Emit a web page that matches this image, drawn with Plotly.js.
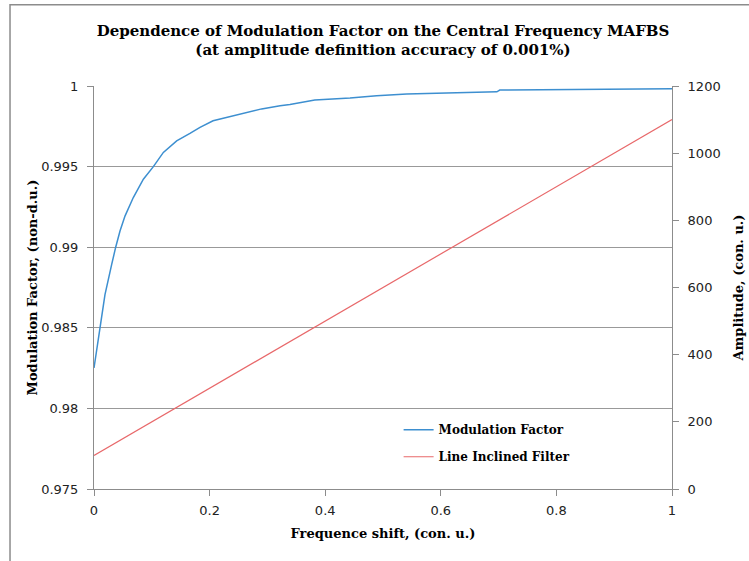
<!DOCTYPE html>
<html>
<head>
<meta charset="utf-8">
<script src="https://cdn.plot.ly/plotly-3.0.1.min.js"></script>
<style>html,body{margin:0;padding:0;background:#fff;}#chart{width:749px;height:561px;}</style>
</head>
<body>
<div id="chart"></div>
<script>
// Frequency shift (con. u.) for the Modulation Factor curve
var freqShift = [0, 0.0046, 0.0104, 0.019, 0.0248, 0.0306, 0.0375, 0.045, 0.0536, 0.068, 0.0854, 0.1027, 0.12, 0.143, 0.166, 0.1834, 0.206, 0.25, 0.29, 0.322, 0.339, 0.382, 0.443, 0.489, 0.541, 0.61, 0.697, 0.702, 0.852, 1.0];
// Modulation factor (non-d.u.)
var modFactor = [0.98251, 0.98354, 0.985, 0.98706, 0.9881, 0.98893, 0.99, 0.991, 0.99193, 0.99308, 0.99422, 0.995, 0.99588, 0.9966, 0.99706, 0.99743, 0.99784, 0.99825, 0.99858, 0.99877, 0.99885, 0.99913, 0.99925, 0.9994, 0.9995, 0.99956, 0.99964, 0.99975, 0.99981, 0.99983];
// Line inclined filter (amplitude, con. u.)
var filterX = [0, 1];
var filterAmp = [100, 1100];
// Tick labels
var leftTickVals = [0.975, 0.98, 0.985, 0.99, 0.995, 1];
var leftTickText = ["0.975", "0.98", "0.985", "0.99", "0.995", "1"];
var xTickVals = [0, 0.2, 0.4, 0.6, 0.8, 1];
var xTickText = ["0", "0.2", "0.4", "0.6", "0.8", "1"];
var rightTickVals = [0, 200, 400, 600, 800, 1000, 1200];
var rightTickText = ["0", "200", "400", "600", "800", "1000", "1200"];

var serif = "DejaVu Serif, Liberation Serif, serif";
var sans = "DejaVu Sans, sans-serif";
var axisGray = "#8c8c8c";

var traces = [
  {x: freqShift, y: modFactor, type: "scatter", mode: "lines", name: "<b>Modulation Factor</b>",
   line: {color: "#3d8fd0", width: 1.5}, yaxis: "y", legendgroup: "a"},
  {x: filterX, y: filterAmp, type: "scatter", mode: "lines", name: "<b>Line Inclined Filter</b>",
   line: {color: "#e8686a", width: 1.2}, yaxis: "y2", legendgroup: "b"}
];

var layout = {
  width: 749, height: 561,
  margin: {l: 94, r: 77, t: 86, b: 72},
  paper_bgcolor: "#ffffff", plot_bgcolor: "#ffffff",
  showlegend: true,
  title: {text: "<b>Dependence of Modulation Factor on the Central Frequency MAFBS<br>(at amplitude definition accuracy of 0.001%)</b>",
          font: {family: serif, size: 15, color: "#000"}, x: 0.5, xref: "paper", y: 0.936, yref: "container", yanchor: "middle"},
  xaxis: {range: [0, 1], tickvals: xTickVals, ticktext: xTickText, ticks: "outside", ticklen: 6,
          tickcolor: axisGray, showline: true, linecolor: axisGray, linewidth: 1, showgrid: false, zeroline: false,
          tickfont: {family: sans, size: 13, color: "#222"}, ticklabelstandoff: 3,
          title: {text: "<b>Frequence shift, (con. u.)</b>", font: {family: serif, size: 13, color: "#000"}, standoff: 12}},
  yaxis: {range: [0.975, 1], tickvals: leftTickVals, ticktext: leftTickText, ticks: "outside", ticklen: 6,
          tickcolor: axisGray, showline: true, linecolor: axisGray, linewidth: 1, showgrid: true, gridcolor: "#999",
          gridwidth: 1, zeroline: false, tickfont: {family: sans, size: 13, color: "#222"}, ticklabelstandoff: 6,
          title: {text: "<b>Modulation Factor, (non-d.u.)</b>", font: {family: serif, size: 13, color: "#000"}, standoff: 0}},
  yaxis2: {range: [0, 1200], tickvals: rightTickVals, ticktext: rightTickText, overlaying: "y", side: "right",
           ticks: "outside", ticklen: 6, tickcolor: axisGray, showline: true, linecolor: axisGray, linewidth: 1,
           showgrid: false, zeroline: false, tickfont: {family: sans, size: 13, color: "#222"}, ticklabelstandoff: 6,
           title: {text: "<b>Amplitude, (con. u.)</b>", font: {family: serif, size: 13, color: "#000"}, standoff: 14}},
  legend: {x: 0.527, y: 0.183, xanchor: "left", yanchor: "top", bgcolor: "rgba(255,255,255,0)",
           font: {family: serif, size: 12, color: "#000"}, tracegroupgap: 8},
  shapes: [{type: "rect", xref: "paper", yref: "paper", x0: -0.1453, x1: 1.2, y0: -0.185, y1: 1.2015,
            line: {color: "#8c8c8c", width: 1.5}, layer: "below"}]
};

Plotly.newPlot("chart", traces, layout, {displayModeBar: false, staticPlot: true});
</script>
</body>
</html>
